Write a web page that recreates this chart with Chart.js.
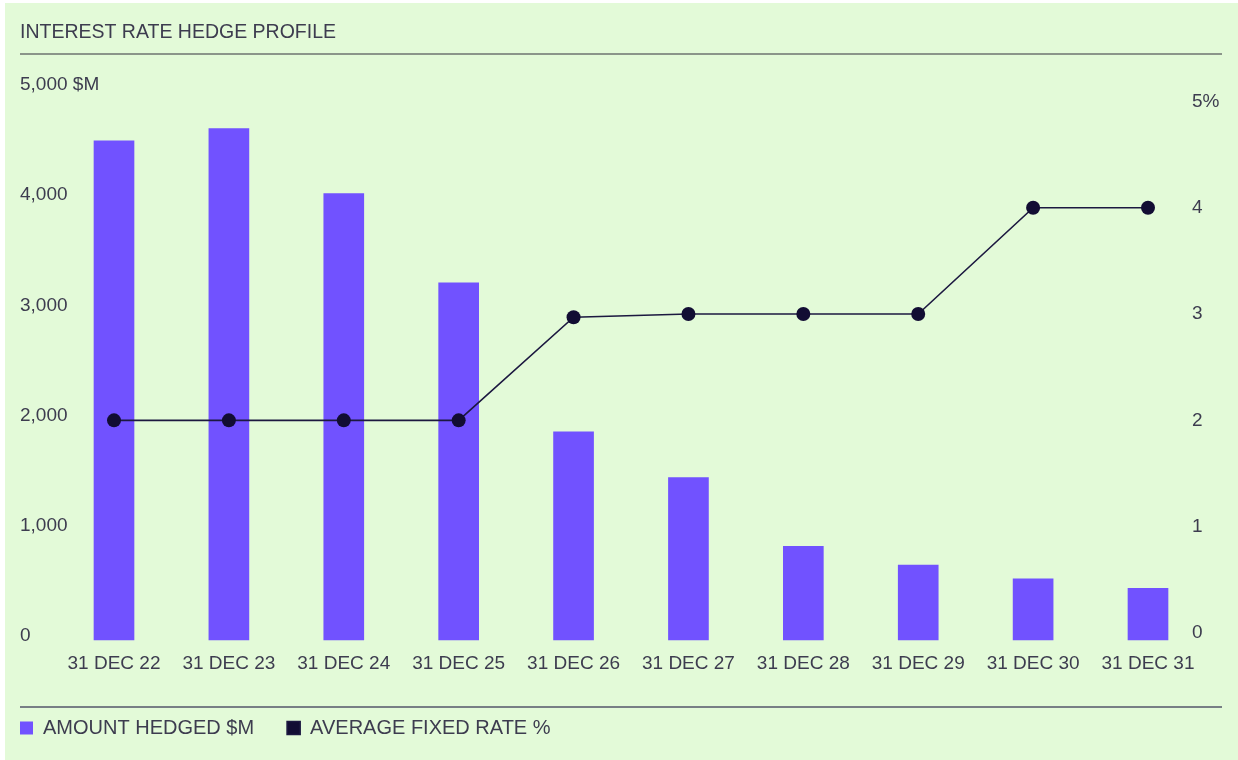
<!DOCTYPE html>
<html>
<head>
<meta charset="utf-8">
<title>Interest rate hedge profile</title>
<script src="https://cdn.jsdelivr.net/npm/chart.js@4.4.0/dist/chart.umd.min.js"></script>
<style>
  html, body { margin: 0; padding: 0; background: #fff; }
  #wrap { position: absolute; left: 0; top: 0; width: 1238px; height: 760px; }
  #bg { position: absolute; left: 5px; top: 3px; right: 0; bottom: 0; background: #e3fad8; }
  canvas { position: absolute; left: 0; top: 0; }
</style>
</head>
<body>
<div id="wrap">
  <div id="bg"></div>
  <canvas id="hedgeChart" width="1238" height="760"></canvas>
</div>
<script>
// ---- data ----
const categories = ["31 DEC 22", "31 DEC 23", "31 DEC 24", "31 DEC 25", "31 DEC 26",
                    "31 DEC 27", "31 DEC 28", "31 DEC 29", "31 DEC 30", "31 DEC 31"];
const amountHedged = [4530, 4640, 4050, 3240, 1890, 1475, 850, 680, 555, 470];   // $M
const avgFixedRate = [2.0, 2.0, 2.0, 2.0, 2.97, 3.0, 3.0, 3.0, 4.0, 4.0];         // %
const amountTicks = [0, 1000, 2000, 3000, 4000, 5000];
const rateTicks = [0, 1, 2, 3, 4, 5];

const TEXT = "#3d3c4f";
const FONT = "'Liberation Sans', Arial, sans-serif";

// horizontal rules under the title and above the legend
const rulesPlugin = {
  id: "rules",
  afterLayout(chart) {
    // legend boxes start at the same left edge as the title
    chart.legend.left = 20 - chart.options.plugins.legend.labels.padding;
  },
  beforeDraw(chart) {
    const ctx = chart.ctx;
    ctx.save();
    ctx.strokeStyle = "#8b958a";
    ctx.lineWidth = 2;
    ctx.beginPath();
    ctx.moveTo(20, 54);
    ctx.lineTo(1222, 54);
    ctx.stroke();
    ctx.strokeStyle = "#55566a";
    ctx.lineWidth = 1.5;
    ctx.beginPath();
    ctx.moveTo(20, 707);
    ctx.lineTo(1222, 707);
    ctx.stroke();
    ctx.restore();
  }
};

new Chart(document.getElementById("hedgeChart"), {
  data: {
    labels: categories,
    datasets: [
      {
        type: "bar",
        label: "AMOUNT HEDGED $M",
        data: amountHedged,
        backgroundColor: "#7152ff",
        borderWidth: 0,
        barThickness: 40,
        clip: false,
        yAxisID: "y",
        order: 1,
      },
      {
        type: "line",
        label: "AVERAGE FIXED RATE %",
        data: avgFixedRate,
        borderColor: "#1c1840",
        backgroundColor: "#120d33",
        borderWidth: 1.6,
        tension: 0,
        pointRadius: 7,
        pointBackgroundColor: "#120d33",
        pointBorderWidth: 0,
        clip: false,
        yAxisID: "y2",
        order: 0,
      },
    ],
  },
  options: {
    responsive: false,
    animation: false,
    layout: { padding: { left: 20, right: 0, top: 0, bottom: 12 } },
    plugins: {
      tooltip: { enabled: false },
      title: {
        display: true,
        text: "INTEREST RATE HEDGE PROFILE",
        align: "start",
        color: TEXT,
        font: { family: FONT, size: 19.5, weight: "normal" },
        padding: { top: 21.3, bottom: 44.3 },
      },
      legend: {
        position: "bottom",
        align: "start",
        labels: {
          boxWidth: 13,
          boxHeight: 13,
          padding: 33,
          color: TEXT,
          font: { family: FONT, size: 20 },
          sort: (a, b) => a.datasetIndex - b.datasetIndex,
        },
      },
    },
    scales: {
      x: {
        offset: false,
        grid: { display: false, drawTicks: false },
        border: { display: false },
        ticks: {
          color: TEXT,
          font: { family: FONT, size: 19 },
          padding: 12,
          maxRotation: 0,
          autoSkip: false,
        },
        afterFit(s) { s.height = 45; },
      },
      y: {
        position: "left",
        min: 0,
        max: 5000,
        grid: { display: false, drawTicks: false },
        border: { display: false },
        afterBuildTicks(s) { s.ticks = amountTicks.map(v => ({ value: v })); },
        ticks: {
          color: TEXT,
          font: { family: FONT, size: 19 },
          crossAlign: "far",
          labelOffset: -4,
          callback: v => v === 5000 ? "5,000 $M" : v.toLocaleString("en-US"),
        },
        afterFit(s) { s.width = 94; },
      },
      y2: {
        position: "right",
        min: -0.066,
        max: 5.117,
        grid: { display: false, drawTicks: false },
        border: { display: false },
        afterBuildTicks(s) { s.ticks = rateTicks.map(v => ({ value: v })); },
        ticks: {
          color: TEXT,
          font: { family: FONT, size: 19 },
          padding: 44,
          callback: v => v === 5 ? "5%" : String(v),
        },
        afterFit(s) { s.width = 90; },
      },
    },
  },
  plugins: [rulesPlugin],
});
</script>
</body>
</html>
